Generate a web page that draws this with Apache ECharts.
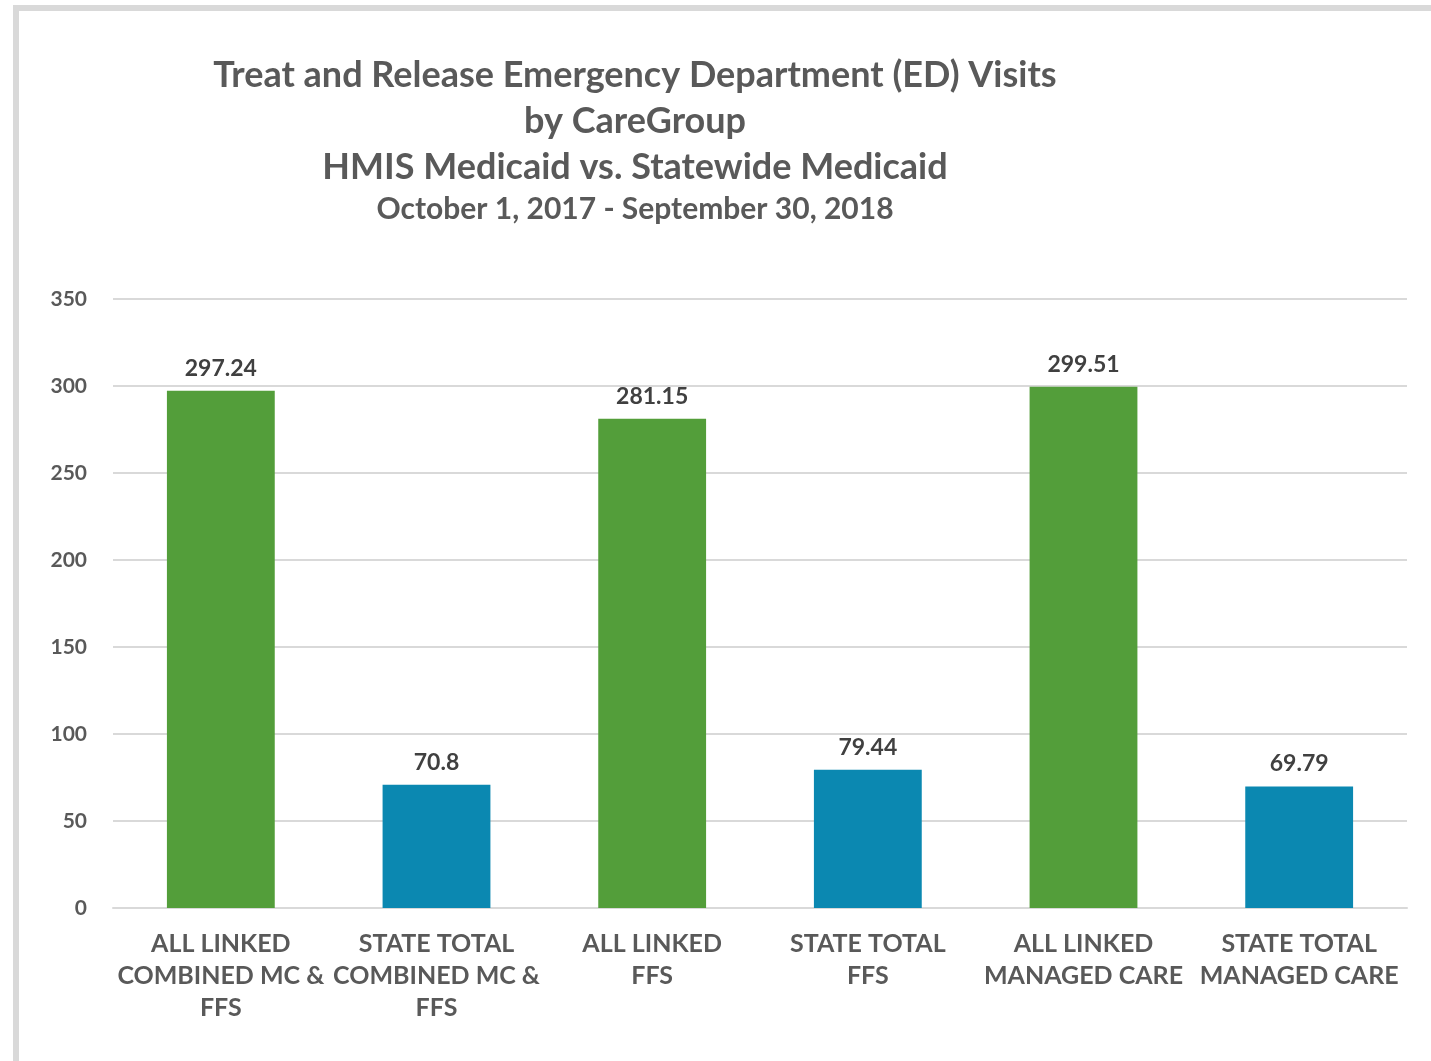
<!DOCTYPE html>
<html>
<head>
<meta charset="utf-8">
<script src="https://cdn.jsdelivr.net/npm/echarts@6/dist/echarts.min.js"></script>
<style>
html,body{margin:0;padding:0;background:#fff;}
#chart{width:1431px;height:1061px;}
</style>
</head>
<body>
<div id="chart"></div>
<script>
const categories = [
  "ALL LINKED\nCOMBINED MC &\nFFS",
  "STATE TOTAL\nCOMBINED MC &\nFFS",
  "ALL LINKED\nFFS",
  "STATE TOTAL\nFFS",
  "ALL LINKED\nMANAGED CARE",
  "STATE TOTAL\nMANAGED CARE"
];
const values = [297.24, 70.8, 281.15, 79.44, 299.51, 69.79];
const barGroups = ["linked", "state", "linked", "state", "linked", "state"];
const titleLines = [
  "Treat and Release Emergency Department (ED) Visits",
  "by CareGroup",
  "HMIS Medicaid vs. Statewide Medicaid"
];
const subtitleText = "October 1, 2017 - September 30, 2018";

const groupColors = { linked: "#539e3a", state: "#0b88b1" };
const FONT = "Lato, 'Open Sans', sans-serif";
const chart = echarts.init(document.getElementById('chart'), null, {renderer: 'canvas'});
chart.setOption({
  backgroundColor: '#ffffff',
  animation: false,
  graphic: [{
    type: 'rect',
    shape: { x: 16, y: 8, width: 1600, height: 1200 },
    style: { fill: 'none', stroke: '#d9d9d9', lineWidth: 6 },
    silent: true
  }],
  title: [{
    text: titleLines.join('\n'),
    left: 630, top: 47, textAlign: 'center',
    textStyle: { fontFamily: FONT, fontSize: 36, fontWeight: 'bold', color: '#595959', lineHeight: 46 }
  }, {
    text: subtitleText,
    left: 630, top: 189, textAlign: 'center',
    textStyle: { fontFamily: FONT, fontSize: 30, fontWeight: 'bold', color: '#595959' }
  }],
  grid: { left: 113, right: 24, top: 299, bottom: 153, containLabel: false },
  xAxis: {
    type: 'category',
    data: categories,
    axisLine: { lineStyle: { color: '#d9d9d9', width: 2 } },
    axisTick: { show: false },
    axisLabel: {
      interval: 0, margin: 20,
      fontFamily: FONT, fontSize: 25, fontWeight: 'bold', color: '#595959', lineHeight: 32
    }
  },
  yAxis: {
    type: 'value', min: 0, max: 350, interval: 50,
    axisLine: { show: false }, axisTick: { show: false },
    splitLine: { lineStyle: { color: '#d9d9d9', width: 2 } },
    axisLabel: { margin: 26, fontFamily: FONT, fontSize: 21, fontWeight: 'bold', color: '#595959' }
  },
  series: [{
    type: 'bar',
    barWidth: '50%',
    data: values.map((v, i) => ({ value: v, itemStyle: { color: groupColors[barGroups[i]] } })),
    label: {
      show: true, position: 'top', distance: 11,
      fontFamily: FONT, fontSize: 23, fontWeight: 'bold', color: '#404040',
      formatter: p => String(p.value)
    }
  }]
});
</script>
</body>
</html>
